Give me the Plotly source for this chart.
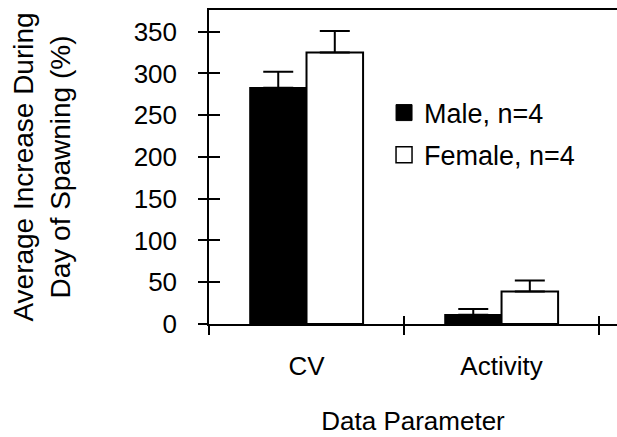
import plotly.graph_objects as go

categories = ["CV", "Activity"]
male_values = [283, 11]
male_errors = [19, 7]
female_values = [325, 39]
female_errors = [26, 13]
series_names = ["Male, n=4", "Female, n=4"]
y_ticks = [0, 50, 100, 150, 200, 250, 300, 350]

FONT = "Liberation Sans, Arial, Helvetica, sans-serif"
Y_RANGE = [0, 376]
X_RANGE = [-0.5, 1.592]

fig = go.Figure()
fig.add_trace(go.Bar(
    name=series_names[0], x=categories, y=male_values, showlegend=False,
    legendgroup="male",
    marker=dict(color="black", line=dict(color="black", width=1.5)),
    error_y=dict(type="data", array=male_errors, arrayminus=[0, 0],
                 symmetric=False, color="black", thickness=2, width=15),
))
fig.add_trace(go.Bar(
    name=series_names[1], x=categories, y=female_values, showlegend=False,
    legendgroup="female",
    marker=dict(color="white", line=dict(color="black", width=2)),
    error_y=dict(type="data", array=female_errors, arrayminus=[0, 0],
                 symmetric=False, color="black", thickness=2, width=15),
))
# legend entries (larger square symbols than bar legend swatches)
fig.add_trace(go.Scatter(
    name=series_names[0], x=[None], y=[None], mode="markers",
    legendgroup="male",
    marker=dict(symbol="square", size=16, color="black",
                line=dict(color="black", width=1)),
    hoverinfo="skip"))
fig.add_trace(go.Scatter(
    name=series_names[1], x=[None], y=[None], mode="markers",
    legendgroup="female",
    marker=dict(symbol="square", size=16, color="white",
                line=dict(color="black", width=1.5)),
    hoverinfo="skip"))
# invisible helper trace so the overlay axes (inside half of cross ticks) render
fig.add_trace(go.Scatter(x=[None], y=[None], xaxis="x2", yaxis="y2",
                         showlegend=False, hoverinfo="skip"))

fig.update_layout(
    width=617, height=437,
    margin=dict(l=209, r=0, t=10, b=113),
    paper_bgcolor="white", plot_bgcolor="white",
    font=dict(family=FONT, size=26, color="black"),
    barmode="group", bargap=0.42, bargroupgap=0,
    showlegend=True,
    legend=dict(x=0.429, y=0.605, xanchor="left", yanchor="middle",
                bgcolor="rgba(0,0,0,0)", font=dict(size=27, family=FONT),
                traceorder="grouped", tracegroupgap=4, itemsizing="trace"),
    xaxis=dict(type="category", range=X_RANGE, tickson="boundaries",
               ticks="outside", ticklen=9, tickwidth=1.5, tickcolor="black",
               showline=True, linecolor="black", linewidth=1.5, mirror=True,
               showgrid=False, zeroline=False, ticklabelstandoff=18,
               tickfont=dict(size=26),
               title=dict(text="Data Parameter", font=dict(size=26), standoff=32)),
    yaxis=dict(range=Y_RANGE, tickmode="array", tickvals=y_ticks,
               ticks="outside", ticklen=9, tickwidth=1.5, tickcolor="black",
               showline=True, linecolor="black", linewidth=1.5,
               showgrid=False, zeroline=False, ticklabelstandoff=16,
               tickfont=dict(size=26),
               title=dict(text="Average Increase During<br>Day of Spawning (%)",
                          font=dict(size=28), standoff=55)),
    xaxis2=dict(overlaying="x", anchor="y", side="bottom", range=X_RANGE,
                tickmode="array", tickvals=[-0.5, 0.5, 1.5],
                ticks="inside", ticklen=8, tickwidth=1.5, tickcolor="black",
                showticklabels=False, showline=False, showgrid=False,
                zeroline=False),
    yaxis2=dict(overlaying="y", anchor="x", side="left", range=Y_RANGE,
                tickmode="array", tickvals=y_ticks,
                ticks="inside", ticklen=11, tickwidth=1.5, tickcolor="black",
                showticklabels=False, showline=False, showgrid=False,
                zeroline=False),
)

fig.write_html("out.html",
               config={"displayModeBar": False},
               post_script="document.body.style.margin='0';"
                           "document.body.style.overflow='hidden';")
